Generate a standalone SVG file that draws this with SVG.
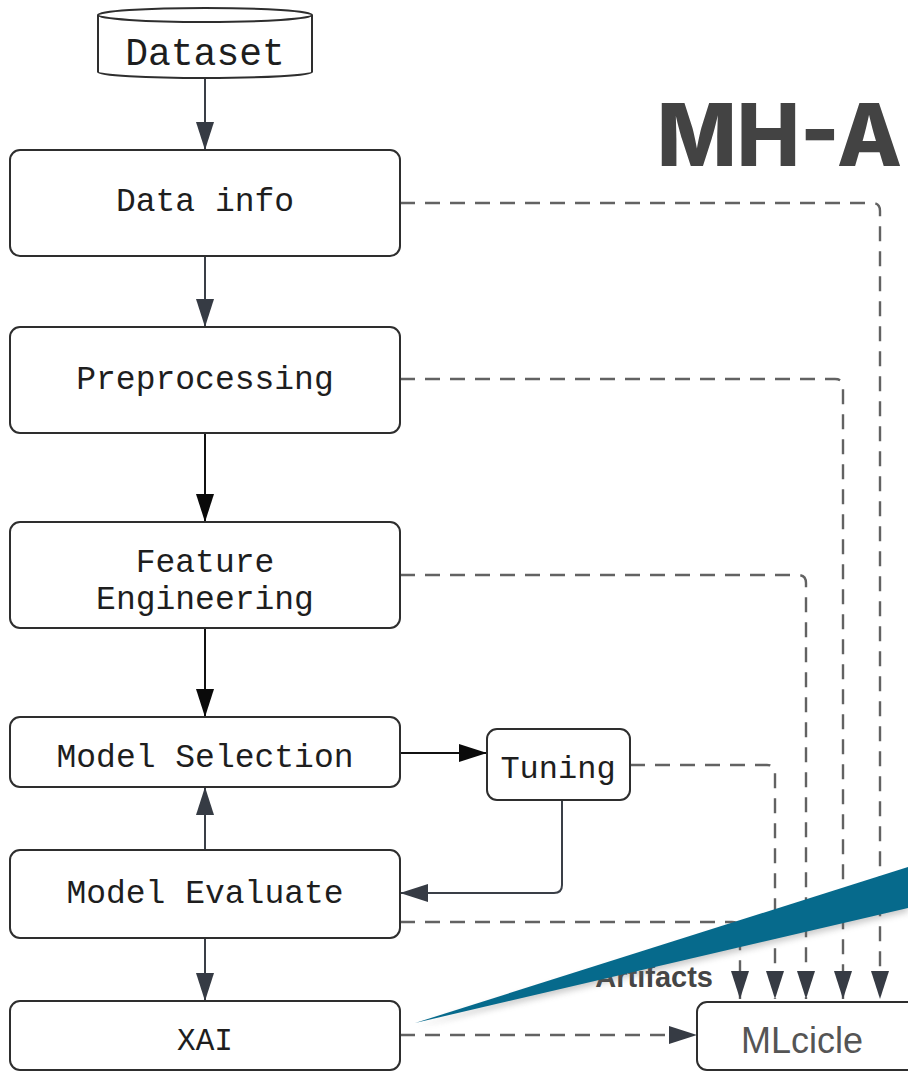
<svg xmlns="http://www.w3.org/2000/svg" width="908" height="1072" viewBox="0 0 908 1072">
  <style>
    .box { fill: #ffffff; stroke: #2e2e2e; stroke-width: 2; }
    .lbl { font-family: "Liberation Mono", "DejaVu Sans Mono", monospace; font-size: 33px; fill: #1e1e1e; text-anchor: middle; }
    .solid { fill: none; stroke: #3a3f47; stroke-width: 2; }
    .solid.black { stroke: #111111; }
    .dash { fill: none; stroke: #626262; stroke-width: 2.4; stroke-dasharray: 15 10; }
  </style>
  <defs>
    <marker id="ah" viewBox="0 0 28 18" refX="28" refY="9" markerWidth="28" markerHeight="18" markerUnits="userSpaceOnUse" orient="auto">
      <path d="M0,0 L28,9 L0,18 z" fill="#363b44"/>
    </marker>
    <marker id="ahBlack" viewBox="0 0 28 18" refX="28" refY="9" markerWidth="28" markerHeight="18" markerUnits="userSpaceOnUse" orient="auto">
      <path d="M0,0 L28,9 L0,18 z" fill="#0a0a0a"/>
    </marker>
    <filter id="soft" x="-10%" y="-20%" width="120%" height="160%">
      <feGaussianBlur stdDeviation="3"/>
    </filter>
  </defs>

  <rect width="908" height="1072" fill="#ffffff"/>

  <!-- title -->
  <text x="657" y="166" font-family="Inter, 'Open Sans', sans-serif" font-weight="800" font-size="86" fill="#434343" textLength="245" lengthAdjust="spacingAndGlyphs">MH-A</text>

  <!-- connectors -->
  <g id="connectors">
    <path class="solid" d="M205,78 V150" marker-end="url(#ah)"/>
    <path class="solid" d="M205,256 V327" marker-end="url(#ah)"/>
    <path class="solid black" d="M205,433 V522" marker-end="url(#ahBlack)"/>
    <path class="solid black" d="M205,628 V717" marker-end="url(#ahBlack)"/>
    <path class="solid" d="M205,850 V787" marker-end="url(#ah)"/>
    <path class="solid" d="M205,938 V1001" marker-end="url(#ah)"/>
    <path class="solid black" d="M400,753 H487" marker-end="url(#ahBlack)"/>
    <path class="solid" d="M562,800 V885 Q562,893 554,893 H400" marker-end="url(#ah)"/>

    <path class="dash" d="M400,203 H872 Q880,203 880,211 V999" marker-end="url(#ah)"/>
    <path class="dash" d="M400,379 H835 Q843,379 843,387 V999" marker-end="url(#ah)"/>
    <path class="dash" d="M400,575 H798 Q806,575 806,583 V999" marker-end="url(#ah)"/>
    <path class="dash" d="M630,765 H767 Q775,765 775,773 V999" marker-end="url(#ah)"/>
    <path class="dash" d="M400,922 H732 Q740,922 740,930 V999" marker-end="url(#ah)"/>
    <path class="dash" d="M400,1035 H697" marker-end="url(#ah)"/>

    <text x="713" y="987" font-family="'Liberation Sans', Arial, sans-serif" font-weight="700" font-size="29" fill="#454545" text-anchor="end">Artifacts</text>
  </g>

  <!-- nodes -->
  <g id="dataset">
    <path class="box" d="M98,15 V72 A107,6 0 0 0 312,72 V15"/>
    <ellipse class="box" cx="205" cy="15" rx="107" ry="7"/>
    <text class="lbl" x="205" y="65" style="font-size:38px">Dataset</text>
  </g>
  <g id="data-info">
    <rect class="box" x="10" y="150" width="390" height="106" rx="10"/>
    <text class="lbl" x="205" y="211">Data info</text>
  </g>
  <g id="preprocessing">
    <rect class="box" x="10" y="327" width="390" height="106" rx="10"/>
    <text class="lbl" x="205" y="389">Preprocessing</text>
  </g>
  <g id="feature-engineering">
    <rect class="box" x="10" y="522" width="390" height="106" rx="10"/>
    <text class="lbl" x="205" y="572">Feature</text>
    <text class="lbl" x="205" y="609">Engineering</text>
  </g>
  <g id="model-selection">
    <rect class="box" x="10" y="717" width="390" height="70" rx="10"/>
    <text class="lbl" x="205" y="767">Model Selection</text>
  </g>
  <g id="tuning">
    <rect class="box" x="487" y="729" width="143" height="71" rx="10"/>
    <text class="lbl" x="558" y="778" style="font-size:32px">Tuning</text>
  </g>
  <g id="model-evaluate">
    <rect class="box" x="10" y="850" width="390" height="88" rx="10"/>
    <text class="lbl" x="205" y="903">Model Evaluate</text>
  </g>
  <g id="xai">
    <rect class="box" x="10" y="1001" width="390" height="69" rx="10"/>
    <text class="lbl" x="205" y="1050" style="font-size:31px">XAI</text>
  </g>
  <g id="mlcicle">
    <rect class="box" x="697" y="1002" width="240" height="68" rx="10"/>
    <text x="802" y="1053" font-family="'Liberation Sans', Arial, sans-serif" font-size="36" fill="#555555" text-anchor="middle">MLcicle</text>
  </g>

  <!-- callout pointer -->
  <path d="M418,1026 L908,912 L908,874 Z" fill="#6b6b6b" opacity="0.35" filter="url(#soft)"/>
  <path d="M415,1023 L908,867 L908,908 Z" fill="#066a8c"/>
</svg>
